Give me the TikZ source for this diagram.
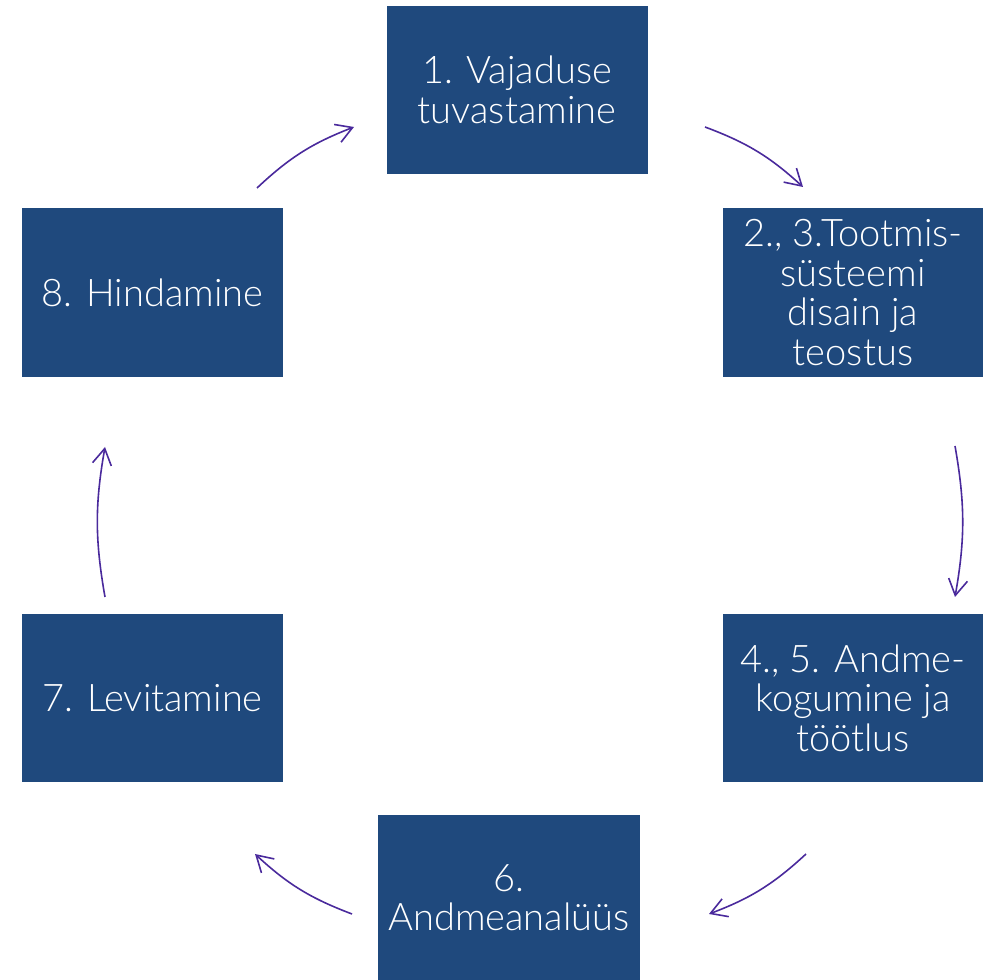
\documentclass[tikz,border=0pt]{standalone}
\usepackage{fontspec}
\setmainfont{Lato}[UprightFont=* Light]
\usetikzlibrary{arrows.meta}
\definecolor{boxblue}{HTML}{1F497D}
\definecolor{arrowc}{HTML}{4A2A9C}
\tikzset{
  stage/.style={fill=boxblue, text=white, inner sep=0pt, align=center,
    minimum width=261pt, minimum height=168pt,
    font=\fontsize{38}{39.5}\selectfont},
  cyc/.style={draw=arrowc, line width=1.6pt,
    -{Straight Barb[length=16pt,width=19pt,line width=1.6pt]}, bend left=11}
}
\begin{document}
\begin{tikzpicture}[x=1pt,y=1pt]
\useasboundingbox (0,0) rectangle (983,980);
\node[stage] (s1) at (517,890) {1. Vajaduse\\tuvastamine};
\node[stage, minimum width=260pt, minimum height=169pt] (s2) at (853,687.5) {2., 3.Tootmis-\\süsteemi\\disain ja\\teostus};
\node[stage, minimum width=260pt] (s4) at (853,282) {4., 5. Andme-\\kogumine ja\\töötlus};
\node[stage, minimum width=262pt, minimum height=165pt] (s6) at (509,82.5) {6.\\Andmeanalüüs};
\node[stage] (s7) at (152.5,282) {7. Levitamine};
\node[stage, minimum height=169pt] (s8) at (152.5,687.5) {8. Hindamine};
\coordinate (a1s) at (705,853); \coordinate (a1e) at (803,793);
\coordinate (a2s) at (955,534); \coordinate (a2e) at (955,383);
\coordinate (a3s) at (806,126); \coordinate (a3e) at (709,66);
\coordinate (a4s) at (352,66);  \coordinate (a4e) at (255,126);
\coordinate (a5s) at (105,383); \coordinate (a5e) at (105,533);
\coordinate (a6s) at (257,792); \coordinate (a6e) at (354,853);
\draw[cyc] (a1s) to (a1e);
\draw[cyc, bend left=10] (a2s) to (a2e);
\draw[cyc] (a3s) to (a3e);
\draw[cyc] (a4s) to (a4e);
\draw[cyc, bend left=10] (a5s) to (a5e);
\draw[cyc] (a6s) to (a6e);
\end{tikzpicture}
\end{document}
